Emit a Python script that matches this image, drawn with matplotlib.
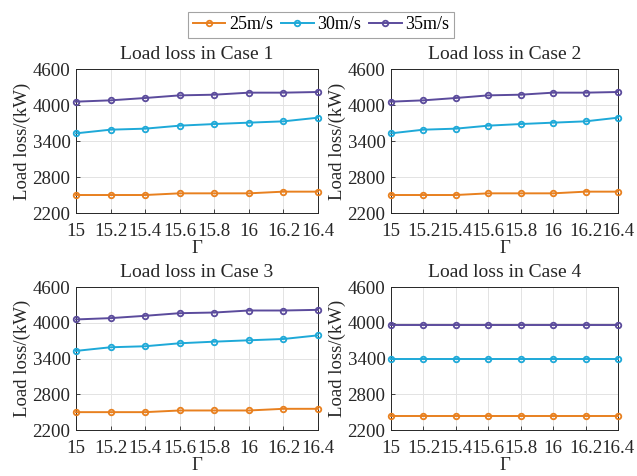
import matplotlib
matplotlib.use("Agg")
import matplotlib.pyplot as plt

plt.rcParams['font.family'] = ['Liberation Serif', 'DejaVu Serif']
plt.rcParams['mathtext.fontset'] = 'stix'

gamma = [15, 15.2, 15.4, 15.6, 15.8, 16, 16.2, 16.4]
xtick_labels = ['15', '15.2', '15.4', '15.6', '15.8', '16', '16.2', '16.4']
series_names = ['25m/s', '30m/s', '35m/s']
colors = ['#E8801F', '#1EA9D8', '#5B4B9C']

case_titles = ['Load loss in Case 1', 'Load loss in Case 2', 'Load loss in Case 3', 'Load loss in Case 4']

# Cases 1-3 (identical in the figure)
v25_case123 = [2500, 2500, 2500, 2528, 2528, 2528, 2556, 2556]
v30_case123 = [3528, 3589, 3606, 3656, 3683, 3706, 3728, 3789]
v35_case123 = [4056, 4078, 4117, 4161, 4172, 4206, 4206, 4217]
# Case 4
v25_case4 = [2432, 2432, 2432, 2432, 2432, 2432, 2432, 2432]
v30_case4 = [3400, 3400, 3400, 3400, 3400, 3400, 3400, 3400]
v35_case4 = [3962, 3962, 3962, 3962, 3962, 3962, 3962, 3962]

cases = [
    [v25_case123, v30_case123, v35_case123],
    [v25_case123, v30_case123, v35_case123],
    [v25_case123, v30_case123, v35_case123],
    [v25_case4, v30_case4, v35_case4],
]

yticks = [2200, 2800, 3400, 4000, 4600]

fig = plt.figure(figsize=(6.37, 4.76), dpi=100)
positions = [
    [0.1193, 0.5525, 0.3800, 0.3025],
    [0.6138, 0.5525, 0.3564, 0.3025],
    [0.1193, 0.0966, 0.3800, 0.3004],
    [0.6138, 0.0966, 0.3564, 0.3004],
]

handles = []
for i, pos in enumerate(positions):
    ax = fig.add_axes(pos)
    for j, vals in enumerate(cases[i]):
        h, = ax.plot(gamma, vals, color=colors[j], lw=1.4, marker='o', ms=4.0,
                     mfc='none', mew=1.3, label=series_names[j], clip_on=False, zorder=3)
        if i == 0:
            handles.append(h)
    ax.set_xlim(15, 16.4)
    ax.set_ylim(2200, 4600)
    ax.set_xticks(gamma)
    ax.set_xticklabels(xtick_labels)
    ax.set_yticks(yticks)
    ax.tick_params(direction='in', length=3, width=0.6, labelsize=13.6, colors='#262626')
    ax.tick_params(axis='x', pad=7)
    ax.tick_params(axis='y', pad=4)
    ax.grid(True, color='#E3E3E3', lw=0.7)
    ax.set_axisbelow(True)
    for s in ax.spines.values():
        s.set_linewidth(0.7)
        s.set_color('#262626')
    ax.set_title(case_titles[i], fontsize=14, pad=7, color='#262626')
    ax.set_xlabel('Γ', fontsize=13.5, labelpad=0.5, color='#262626')
    ax.set_ylabel('Load loss/(kW)', fontsize=13.5, labelpad=1, color='#262626')

leg = fig.legend(handles=handles, loc='center', bbox_to_anchor=(0.504, 0.9485), ncol=3,
                 fontsize=13, frameon=True, fancybox=False, edgecolor='#8C8C8C',
                 handlelength=1.8, handletextpad=0.2, columnspacing=0.45,
                 borderpad=0.25, borderaxespad=0)
leg.get_frame().set_linewidth(0.8)

fig.savefig('out.png', dpi=100)
